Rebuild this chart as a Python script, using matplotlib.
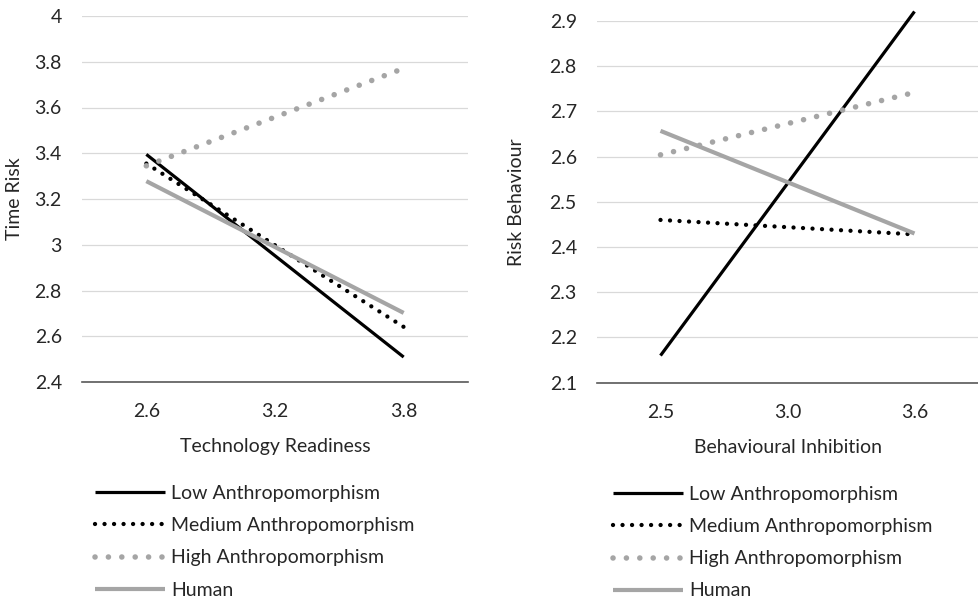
import matplotlib
matplotlib.use("Agg")
import matplotlib.pyplot as plt
from matplotlib.lines import Line2D

plt.rcParams['font.family'] = ['Lato', 'DejaVu Sans']

# ---- data ----
series_names = ["Low Anthropomorphism", "Medium Anthropomorphism",
                "High Anthropomorphism", "Human"]

left_x_labels = ["2.6", "3.2", "3.8"]
left_low = [3.395, None, 2.509]
left_medium = [3.355, None, 2.641]
left_high = [3.345, None, 3.771]
left_human = [3.278, None, 2.702]
left_yticks = [2.4, 2.6, 2.8, 3.0, 3.2, 3.4, 3.6, 3.8, 4.0]
left_yticklabels = ["2.4", "2.6", "2.8", "3", "3.2", "3.4", "3.6", "3.8", "4"]

right_x_labels = ["2.5", "3.0", "3.6"]
right_low = [2.160, None, 2.921]
right_medium = [2.460, None, 2.428]
right_high = [2.604, None, 2.742]
right_human = [2.657, None, 2.430]
right_yticks = [2.1, 2.2, 2.3, 2.4, 2.5, 2.6, 2.7, 2.8, 2.9]
right_yticklabels = ["2.1", "2.2", "2.3", "2.4", "2.5", "2.6", "2.7", "2.8", "2.9"]

# ---- styles ----
GREY = "#A5A5A5"
styles = [
    dict(color="black", lw=2.3, ls="-", solid_capstyle="butt"),
    dict(color="black", lw=3.1, ls=(0, (0.01, 2.2)), dash_capstyle="round"),
    dict(color=GREY, lw=4.0, ls=(0, (0.01, 2.4)), dash_capstyle="round"),
    dict(color=GREY, lw=3.0, ls="-", solid_capstyle="butt"),
]

W, H = 979, 603
fig = plt.figure(figsize=(W / 100, H / 100), dpi=100)

def px_axes(x0, x1, ytop, ybot):
    return fig.add_axes([x0 / W, (H - ybot) / H, (x1 - x0) / W, (ybot - ytop) / H])

FS = 14
TXT = "#262626"

def setup(ax, series, xlabels, yticks, yticklabels, ylim, xlabel, ylabel, ylabel_x):
    xs = list(range(len(xlabels)))
    for vals, st in zip(series, styles):
        pts = [(x, v) for x, v in zip(xs, vals) if v is not None]
        ax.plot([p[0] for p in pts], [p[1] for p in pts], clip_on=False, zorder=3, **st)
    ax.set_xlim(-0.5, len(xlabels) - 0.5)
    ax.set_ylim(*ylim)
    ax.set_xticks(xs)
    ax.set_xticklabels(xlabels, fontsize=FS, color=TXT)
    ax.set_yticks(yticks)
    ax.set_yticklabels(yticklabels, fontsize=FS, color=TXT)
    ax.tick_params(axis="both", length=0)
    ax.tick_params(axis="y", pad=14.5)
    ax.tick_params(axis="x", pad=15)
    for s in ["top", "right", "left"]:
        ax.spines[s].set_visible(False)
    ax.spines["bottom"].set_color("#595959")
    ax.spines["bottom"].set_linewidth(1.2)
    ax.grid(axis="y", color="#D9D9D9", lw=0.9, zorder=0)
    ax.set_axisbelow(True)
    ax.set_xlabel(xlabel, fontsize=FS, color=TXT, labelpad=13)
    ax.set_ylabel(ylabel, fontsize=FS, color=TXT)
    ax.yaxis.set_label_coords(ylabel_x, 0.5)
    ax.yaxis.label.set_verticalalignment("center")

ax1 = px_axes(82, 468, 16, 382)
setup(ax1, [left_low, left_medium, left_high, left_human], left_x_labels,
      left_yticks, left_yticklabels, (2.4, 4.0), "Technology Readiness", "Time Risk",
      (15 - 82) / 386)

ax2 = px_axes(597, 978, 21, 382.7)
setup(ax2, [right_low, right_medium, right_high, right_human], right_x_labels,
      right_yticks, right_yticklabels, (2.1, 2.9), "Behavioural Inhibition", "Risk Behaviour",
      (517 - 597) / 381)

def make_legend(x_px, y_px):
    handles = [Line2D([], [], **st) for st in styles]
    fpx = FS * 100 / 72
    leg = fig.legend(handles, series_names, loc="upper left",
                     bbox_to_anchor=(x_px / W, 1 - y_px / H),
                     frameon=False, fontsize=FS, handlelength=70 / fpx,
                     handletextpad=6 / fpx, labelspacing=0.78,
                     borderaxespad=0, borderpad=0)
    for t in leg.get_texts():
        t.set_color(TXT)
    return leg

make_legend(95, 485)
make_legend(613, 486)

fig.savefig("out.png", dpi=100)
